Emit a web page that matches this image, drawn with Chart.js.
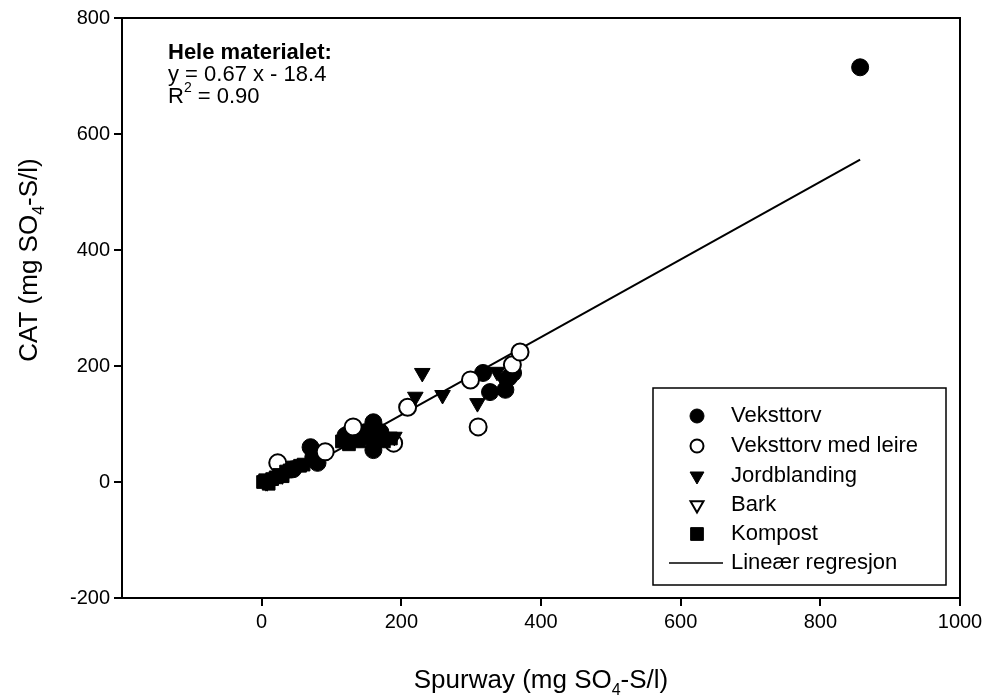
<!DOCTYPE html>
<html>
<head>
<meta charset="utf-8">
<script src="https://cdn.jsdelivr.net/npm/chart.js@4.4.1/dist/chart.umd.min.js"></script>
<style>
html,body{margin:0;padding:0;background:#fff;}
#wrap{width:989px;height:700px;position:relative;}
</style>
</head>
<body>
<div id="wrap"><canvas id="c" width="989" height="700"></canvas></div>
<script>
// ---- Data ----
const vekstX = [857, 317, 327, 349, 360, 354, 160, 160, 149, 170, 127, 160, 120, 70, 74, 80, 45, 140];
const vekstY = [715, 188, 155, 159, 188, 180, 103, 55, 86, 86, 86, 72, 80, 60, 43, 33, 22, 75];

const leireX = [23, 91, 131, 189, 209, 299, 310, 359, 370];
const leireY = [33, 52, 95, 67, 129, 176, 95, 202, 224];

const jordX = [230, 220, 259, 309, 337, 190, 345];
const jordY = [188, 147, 150, 136, 190, 78, 178];

const barkX = [8, 30];
const barkY = [2, 14];

const kompX = [2, 5, 10, 15, 20, 25, 30, 35, 40, 45, 55, 60, 115, 125, 140, 175, 185];
const kompY = [0, 3, -3, 5, 8, 12, 10, 18, 20, 25, 28, 30, 70, 65, 70, 70, 75];

const regX = [5, 857];
const regY = [-15, 556];

const seriesNames = ["Veksttorv", "Veksttorv med leire", "Jordblanding", "Bark", "Kompost", "Lineær regresjon"];
const xTicks = [0, 200, 400, 600, 800, 1000];
const yTicks = [-200, 0, 200, 400, 600, 800];
const annotation = ["Hele materialet:", "y = 0.67 x - 18.4", "R", "2", " = 0.90"];

const FONT = "'Liberation Sans', Arial, sans-serif";
const pts = (xs, ys) => xs.map((x, i) => ({x: x, y: ys[i]}));

const styles = [
  {pointStyle: 'circle', radius: 8.5, rotation: 0, fill: '#000', border: '#000', bw: 1, lr: 7},
  {pointStyle: 'circle', radius: 8.5, rotation: 0, fill: '#fff', border: '#000', bw: 2, lr: 6.5},
  {pointStyle: 'triangle', radius: 9, rotation: 180, fill: '#000', border: '#000', bw: 1, lr: 8},
  {pointStyle: 'triangle', radius: 9, rotation: 180, fill: '#fff', border: '#000', bw: 2, lr: 7.5},
  {pointStyle: 'rect', radius: 9, rotation: 0, fill: '#000', border: '#000', bw: 1, lr: 9}
];
const dataSets = [pts(vekstX, vekstY), pts(leireX, leireY), pts(jordX, jordY), pts(barkX, barkY), pts(kompX, kompY)];

const datasets = dataSets.map((d, i) => ({
  type: 'scatter',
  label: seriesNames[i],
  data: d,
  pointStyle: styles[i].pointStyle,
  pointRadius: styles[i].radius,
  pointRotation: styles[i].rotation,
  backgroundColor: styles[i].fill,
  borderColor: styles[i].border,
  borderWidth: styles[i].bw,
  showLine: false,
  order: 5 - i
}));
datasets.push({
  type: 'scatter',
  label: seriesNames[5],
  data: pts(regX, regY),
  showLine: true,
  borderColor: '#000',
  borderWidth: 2,
  pointRadius: 0,
  fill: false,
  order: 20
});

function drawSubText(ctx, parts, x, y, size, align) {
  const fontMain = size + 'px ' + FONT;
  const fontSub = Math.round(size * 0.62) + 'px ' + FONT;
  let total = 0;
  parts.forEach(p => { ctx.font = p[1] ? fontSub : fontMain; total += ctx.measureText(p[0]).width; });
  let cx = align === 'center' ? x - total / 2 : x;
  ctx.textAlign = 'left';
  ctx.textBaseline = 'middle';
  parts.forEach(p => {
    ctx.font = p[1] ? fontSub : fontMain;
    ctx.fillText(p[0], cx, p[1] ? y + size * 0.35 : y);
    cx += ctx.measureText(p[0]).width;
  });
}

const decor = {
  id: 'decor',
  afterDraw(chart) {
    const ctx = chart.ctx;
    const a = chart.chartArea;
    ctx.save();
    ctx.strokeStyle = '#000';
    ctx.lineWidth = 2;
    ctx.strokeRect(a.left, a.top, a.right - a.left, a.bottom - a.top);
    ctx.fillStyle = '#000';

    // annotation
    ctx.textAlign = 'left';
    ctx.textBaseline = 'middle';
    ctx.font = 'bold 22px ' + FONT;
    ctx.fillText(annotation[0], 168, 53);
    ctx.font = '22px ' + FONT;
    ctx.fillText(annotation[1], 168, 75);
    ctx.fillText(annotation[2], 168, 97);
    let w = ctx.measureText(annotation[2]).width;
    ctx.font = '14px ' + FONT;
    ctx.fillText(annotation[3], 168 + w, 88);
    let w2 = ctx.measureText(annotation[3]).width;
    ctx.font = '22px ' + FONT;
    ctx.fillText(annotation[4], 168 + w + w2, 97);

    // axis titles
    drawSubText(ctx, [["Spurway (mg SO", false], ["4", true], ["-S/l)", false]], 541, 681, 26, 'center');
    ctx.save();
    ctx.translate(30, 260);
    ctx.rotate(-Math.PI / 2);
    drawSubText(ctx, [["CAT (mg SO", false], ["4", true], ["-S/l)", false]], 0, 0, 26, 'center');
    ctx.restore();

    // legend
    const lx = 653, ly = 388, lw = 293, lh = 197;
    ctx.fillStyle = '#fff';
    ctx.fillRect(lx, ly, lw, lh);
    ctx.strokeStyle = '#000';
    ctx.lineWidth = 1.5;
    ctx.strokeRect(lx, ly, lw, lh);
    const rows = [416, 446, 476, 505, 534, 563];
    for (let i = 0; i < 6; i++) {
      const y = rows[i];
      if (i < 5) {
        const s = styles[i];
        ctx.fillStyle = s.fill;
        ctx.strokeStyle = s.border;
        ctx.lineWidth = s.bw;
        Chart.helpers.drawPoint(ctx, {pointStyle: s.pointStyle, radius: s.lr, rotation: s.rotation, borderWidth: s.bw}, 697, y);
      } else {
        ctx.strokeStyle = '#000';
        ctx.lineWidth = 1.5;
        ctx.beginPath();
        ctx.moveTo(669, y);
        ctx.lineTo(723, y);
        ctx.stroke();
      }
      ctx.fillStyle = '#000';
      ctx.font = '22px ' + FONT;
      ctx.textAlign = 'left';
      ctx.textBaseline = 'middle';
      ctx.fillText(seriesNames[i], 731, y);
    }
    ctx.restore();
  }
};

new Chart(document.getElementById('c'), {
  type: 'scatter',
  data: {datasets: datasets},
  options: {
    responsive: false,
    animation: false,
    devicePixelRatio: 1,
    layout: {padding: {top: 18, right: 29, left: 0, bottom: 0}},
    plugins: {legend: {display: false}, tooltip: {enabled: false}},
    scales: {
      x: {
        type: 'linear',
        min: -200, max: 1000,
        afterFit: s => { s.height = 102; },
        afterBuildTicks: s => { s.ticks = xTicks.map(v => ({value: v})); },
        grid: {display: true, drawOnChartArea: false, drawTicks: true, tickLength: 8, color: '#000', lineWidth: 2},
        border: {display: true, color: '#000', width: 2},
        ticks: {color: '#000', font: {family: FONT, size: 20}, padding: 4, maxRotation: 0, callback: v => String(v)}
      },
      y: {
        type: 'linear',
        min: -200, max: 800,
        afterFit: s => { s.width = 122; },
        afterBuildTicks: s => { s.ticks = yTicks.map(v => ({value: v})); },
        grid: {display: true, drawOnChartArea: false, drawTicks: true, tickLength: 8, color: '#000', lineWidth: 2},
        border: {display: true, color: '#000', width: 2},
        ticks: {color: '#000', font: {family: FONT, size: 20}, padding: 4, callback: v => String(v)}
      }
    }
  },
  plugins: [decor]
});
</script>
</body>
</html>
